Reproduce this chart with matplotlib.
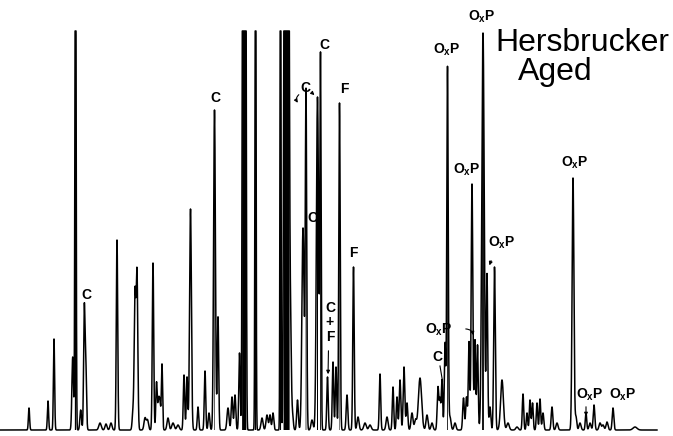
import matplotlib.pyplot as plt
import numpy as np

plt.rcParams['mathtext.fontset'] = 'custom'
plt.rcParams['mathtext.rm'] = 'Liberation Sans'
plt.rcParams['mathtext.bf'] = 'Liberation Sans:bold'

# peak retention positions, heights above baseline and widths (sigma)
retention = [29, 48, 54, 72.7, 75.5, 80.7, 84.3, 85.8, 100, 106, 111, 117,
             133, 135, 137, 145, 147.5, 153, 156.5, 158.5, 160, 162, 168, 173, 178,
             184, 187, 190.5, 198, 205, 209, 214.5, 218, 228, 232, 235, 239.5,
             242.8, 244.2, 245.6, 255.5, 262, 267, 270, 273, 280.5, 284.5, 286.5,
             288.5, 290.5, 292.5, 297.5, 303, 306,
             312, 317.5, 320.5, 327.5, 333, 336, 339.5, 347, 353.5, 358, 365, 370,
             380, 387, 393, 397, 400, 404, 407, 412, 415.5, 420, 427, 432, 438, 440,
             442, 445, 447.5, 450, 455, 463.5, 466.5, 469, 472, 475, 477.5, 483, 487,
             490, 494.5, 502, 508, 517, 523, 527, 530, 532.5, 537, 540, 543, 552, 557,
             573, 576, 580, 586, 590, 594, 600, 603, 607, 613, 635]
heights = [22, 29, 91, 73, 650, 20, 120, 63, 7, 6, 7, 190,
           18, 135, 156, 12, 10, 167, 47, 27, 25, 65, 12, 7, 5,
           55, 53, 221, 23, 59, 17, 320, 113, 22, 33, 35, 77,
           650, 650, 650, 650, 12, 15, 15, 17, 650, 650, 650,
           650, 108, 15, 30, 202, 337,
           10, 333, 370, 53, 68, 63, 327, 35, 163, 13, 7, 5,
           56, 13, 43, 33, 50, 63, 27, 17, 10, 52, 15, 7, 43, 30,
           50, 87, 363, 13, 7, 32, 33, 88, 246, 90, 85, 397, 155,
           23, 163, 50, 7, 3, 36, 17, 30, 27, 27, 31, 17, 23, 7,
           252, 13, 7, 17, 7, 25, 7, 5, 8, 22, 3]
widths = [0.6, 0.6, 0.6, 0.8, 0.55, 0.8, 0.7, 0.7, 1.2, 1.0, 1.0, 0.7,
          0.8, 0.8, 0.8, 1.0, 1.0, 0.7, 0.7, 0.8, 0.8, 0.6, 1.0, 1.2, 1.2,
          0.7, 0.7, 0.9, 0.7, 0.7, 0.8, 0.9, 0.7, 1.0, 0.8, 0.8, 0.7,
          0.6, 0.6, 0.6, 0.5, 1.0, 1.0, 0.8, 0.8, 0.45, 0.8, 0.8,
          0.8, 0.8, 0.8, 0.8, 1.1, 0.7,
          1.0, 1.1, 0.6, 0.7, 0.7, 0.7, 0.7, 0.8, 0.7, 1.0, 1.2, 1.2,
          0.7, 1.0, 0.7, 0.7, 0.8, 0.8, 0.8, 1.0, 1.0, 1.6, 1.0, 1.0, 0.8, 0.7,
          0.7, 0.7, 0.7, 1.0, 1.0, 0.8, 0.8, 0.7, 0.8, 0.7, 0.7, 1.2, 0.7,
          0.8, 0.8, 1.4, 1.2, 1.2, 0.7, 0.7, 0.7, 0.7, 0.7, 0.7, 0.8, 0.8, 1.0,
          0.9, 0.8, 1.0, 0.7, 1.0, 0.8, 1.0, 1.0, 1.0, 0.8, 2.0]

baseline = 1.0
full_scale = 400.0   # recorder pen limit
run_end = 657

# build the trace as a sum of gaussian peaks on a flat baseline
t = np.arange(0, run_end, 0.05)
signal = np.full_like(t, baseline)
for rt, h, w in zip(retention, heights, widths):
    signal += h * np.exp(-0.5 * ((t - rt) / w) ** 2)
signal = np.minimum(signal, full_scale)

# tall narrow peaks get inked solid (pen strokes overlap)
above = signal > 0.75 * full_scale
solid = np.zeros_like(above)
starts = np.flatnonzero(above[1:] & ~above[:-1]) + 1
ends = np.flatnonzero(~above[1:] & above[:-1]) + 1
for s, e in zip(starts, ends):
    if t[e - 1] - t[s] <= 8:
        solid[s:e] = True

fig = plt.figure(figsize=(6.73, 4.36), dpi=100)
ax = fig.add_axes([0, 0, 1, 1])
ax.fill_between(t, baseline, signal, where=solid, color='black', lw=0)
ax.plot(t, signal, color='black', lw=1.1)
ax.set_xlim(0, 673)
ax.set_ylim(-5, 431)
ax.axis('off')

lab = dict(fontfamily='Liberation Sans', fontweight='bold', fontsize=10,
           ha='center', va='center', color='black')
oxp = r'$\mathbf{O_xP}$'
arr = dict(arrowstyle='-|>', color='black', lw=0.8, mutation_scale=5)

# compound class labels
ax.text(86, 136, 'C', **lab)
ax.text(215, 333, 'C', **lab)
ax.text(305, 343, 'C', **lab)
ax.annotate('', xy=(316.5, 334), xytext=(310, 340), arrowprops=arr)
ax.annotate('', xy=(299.5, 326), xytext=(301, 338),
            arrowprops=dict(arrowstyle='-|>', color='black', lw=0.8,
                            mutation_scale=5, connectionstyle='arc3,rad=0.6'))
ax.text(324, 386, 'C', **lab)
ax.text(312, 213, 'C', **lab)
ax.text(344, 342, 'F', **lab)
ax.text(353, 178, 'F', **lab)
ax.text(330, 123, 'C', **lab)
ax.text(330, 109, '+', **lab)
ax.text(330, 94, 'F', **lab)
ax.annotate('', xy=(328, 54), xytext=(328.5, 83), arrowprops=arr)
ax.text(437, 74, 'C', **lab)
ax.plot([440, 442.5], [65, 50], color='black', lw=0.8)

ax.text(447, 381, oxp, **lab)
ax.text(439, 101, oxp, **lab)
ax.annotate('', xy=(474, 93), xytext=(463, 102),
            arrowprops=dict(arrowstyle='-|>', color='black', lw=0.8,
                            mutation_scale=5, connectionstyle='arc3,rad=-0.5'))
ax.text(482, 414, oxp, **lab)
ax.text(467, 261, oxp, **lab)
ax.text(502, 188, oxp, **lab)
ax.annotate('', xy=(488.5, 163), xytext=(492, 173), arrowprops=arr)
ax.text(575, 268, oxp, **lab)
ax.text(590, 36, oxp, **lab)
ax.annotate('', xy=(586, 12), xytext=(586, 27), arrowprops=arr)
ax.text(623, 36, oxp, **lab)

ax.text(495, 388, 'Hersbrucker', fontfamily='Liberation Sans', fontsize=23,
        ha='left', va='center')
ax.text(518, 359, 'Aged', fontfamily='Liberation Sans', fontsize=23,
        ha='left', va='center')

fig.savefig('out.png', dpi=100)
